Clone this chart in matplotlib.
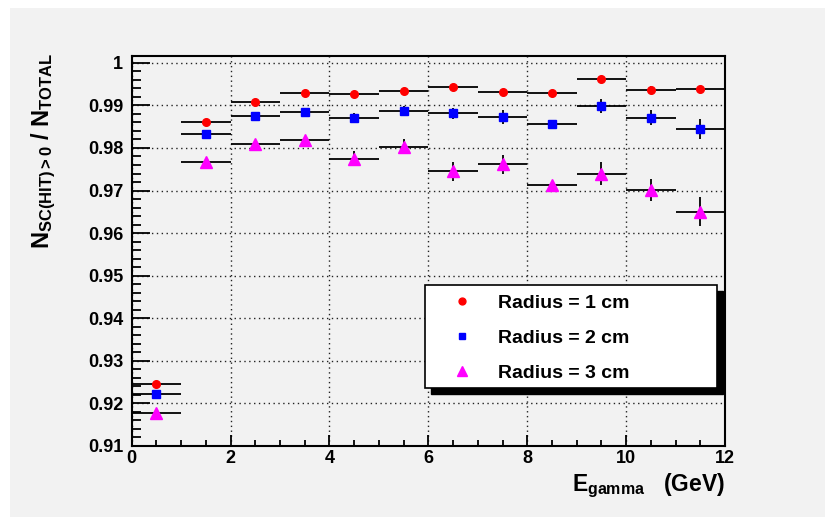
import matplotlib
matplotlib.use('Agg')
import matplotlib.pyplot as plt
from matplotlib.patches import Rectangle
from matplotlib.ticker import MultipleLocator

plt.rcParams['font.family'] = ['Liberation Sans', 'DejaVu Sans']
plt.rcParams['font.weight'] = 'bold'
plt.rcParams['axes.labelweight'] = 'bold'
plt.rcParams['mathtext.fontset'] = 'custom'
plt.rcParams['mathtext.rm'] = 'Liberation Sans:bold'
plt.rcParams['mathtext.it'] = 'Liberation Sans:bold'
plt.rcParams['mathtext.bf'] = 'Liberation Sans:bold'

# photon energy bins (GeV), half width 0.5
energia = [0.5, 1.5, 2.5, 3.5, 4.5, 5.5, 6.5, 7.5, 8.5, 9.5, 10.5, 11.5]
ancho = [0.5] * 12

# fraction with SC hit for each radius
radio1 = [0.9245, 0.9862, 0.9909, 0.9930, 0.9927, 0.9934, 0.9943, 0.9931, 0.9930, 0.9961, 0.9937, 0.9938]
radio2 = [0.9223, 0.9832, 0.9876, 0.9884, 0.9870, 0.9886, 0.9881, 0.9873, 0.9856, 0.9899, 0.9871, 0.9845]
radio3 = [0.9178, 0.9768, 0.9809, 0.9819, 0.9775, 0.9803, 0.9745, 0.9762, 0.9712, 0.9740, 0.9702, 0.9650]

err1 = [0.0002, 0.0003, 0.0003, 0.0004, 0.0004, 0.0006, 0.0006, 0.0007, 0.0005, 0.0005, 0.0008, 0.0008]
err2 = [0.0003, 0.0004, 0.0004, 0.0005, 0.0012, 0.0012, 0.0012, 0.0017, 0.0005, 0.0016, 0.0017, 0.0023]
err3 = [0.0004, 0.0005, 0.0006, 0.0008, 0.0017, 0.0018, 0.0023, 0.0022, 0.0006, 0.0027, 0.0026, 0.0034]

etiquetas = ['Radius = 1 cm', 'Radius = 2 cm', 'Radius = 3 cm']


def main():
    fig = plt.figure(figsize=(8.25, 5.17), dpi=100, facecolor='white')
    # grey canvas with thin white margin on top / left
    fig.patches.append(Rectangle((10 / 825, 0), 1, 1 - 8 / 517, transform=fig.transFigure,
                                 facecolor='#f2f2f2', edgecolor='none', zorder=-10))

    ax = fig.add_axes([131.7 / 825, 71 / 517, 593.3 / 825, 390 / 517])
    ax.set_facecolor('#f2f2f2')

    estilos = [('o', '#ff0000', 5.5), ('s', '#0000ff', 5.5), ('^', '#ff00ff', 8.5)]
    series = [(radio1, err1), (radio2, err2), (radio3, err3)]
    for (y, e), (m, c, ms), lab in zip(series, estilos, etiquetas):
        ax.errorbar(energia, y, xerr=ancho, yerr=e, fmt=m, color=c, ms=ms, mec=c,
                    ecolor='black', elinewidth=1.3, capsize=0, label=lab, zorder=3)

    ax.set_xlim(0, 12)
    ax.set_ylim(0.91, 1.0016)
    ax.xaxis.set_major_locator(MultipleLocator(2))
    ax.xaxis.set_minor_locator(MultipleLocator(0.5))
    ax.yaxis.set_major_locator(MultipleLocator(0.01))
    ax.yaxis.set_minor_locator(MultipleLocator(0.002))
    ax.yaxis.set_major_formatter(plt.FuncFormatter(lambda v, p: ('%.2f' % v).rstrip('0').rstrip('.')))

    ax.tick_params(which='both', direction='in', top=False, right=False, width=1.3, labelsize=13)
    ax.tick_params(axis='y', which='major', length=13, pad=6)
    ax.tick_params(axis='y', which='minor', length=6.5)
    ax.tick_params(axis='x', which='major', length=8, pad=3)
    ax.tick_params(axis='x', which='minor', length=4)
    for s in ax.spines.values():
        s.set_linewidth(1.5)

    ax.grid(True, which='major', color='#222222', linestyle=(0, (1, 2.5)), linewidth=1)
    ax.set_axisbelow(True)

    ax.set_xlabel(r'$E_{gamma}$   (GeV)', fontsize=16.5, ha='right', va='top')
    ax.xaxis.set_label_coords(1.0, -0.066)
    ax.set_ylabel(r'$N_{SC(HIT) > 0}$ / $N_{TOTAL}$', fontsize=17, ha='center', va='top',
                  rotation_mode='default')
    ax.yaxis.set_label_coords(-0.148, 1.008)

    # legend box with black shadow (ROOT style)
    x0, x1 = (425 - 131.7) / 593.3, (716.7 - 131.7) / 593.3
    y0, y1 = (446 - 388.3) / 390, (446 - 285) / 390
    dx, dy = 6 / 593.3, 6 / 390
    ax.add_patch(Rectangle((x0 + dx, y0 - dy), x1 - x0, y1 - y0, transform=ax.transAxes,
                           facecolor='black', edgecolor='black', zorder=5))
    ax.add_patch(Rectangle((x0, y0), x1 - x0, y1 - y0, transform=ax.transAxes,
                           facecolor='white', edgecolor='black', lw=1.2, zorder=6))
    h, l = ax.get_legend_handles_labels()
    h = [hh[0] for hh in h]
    leg = ax.legend(h, l, loc='center left', bbox_to_anchor=(x0, (y0 + y1) / 2 - 0.004),
                    frameon=False, fontsize=14, borderaxespad=0, borderpad=0.88,
                    handlelength=2, handletextpad=0.87, labelspacing=0.9, numpoints=1,
                    markerscale=0.9)
    leg.set_zorder(7)

    fig.savefig('out.png', dpi=100, facecolor=fig.get_facecolor())


if __name__ == '__main__':
    main()
